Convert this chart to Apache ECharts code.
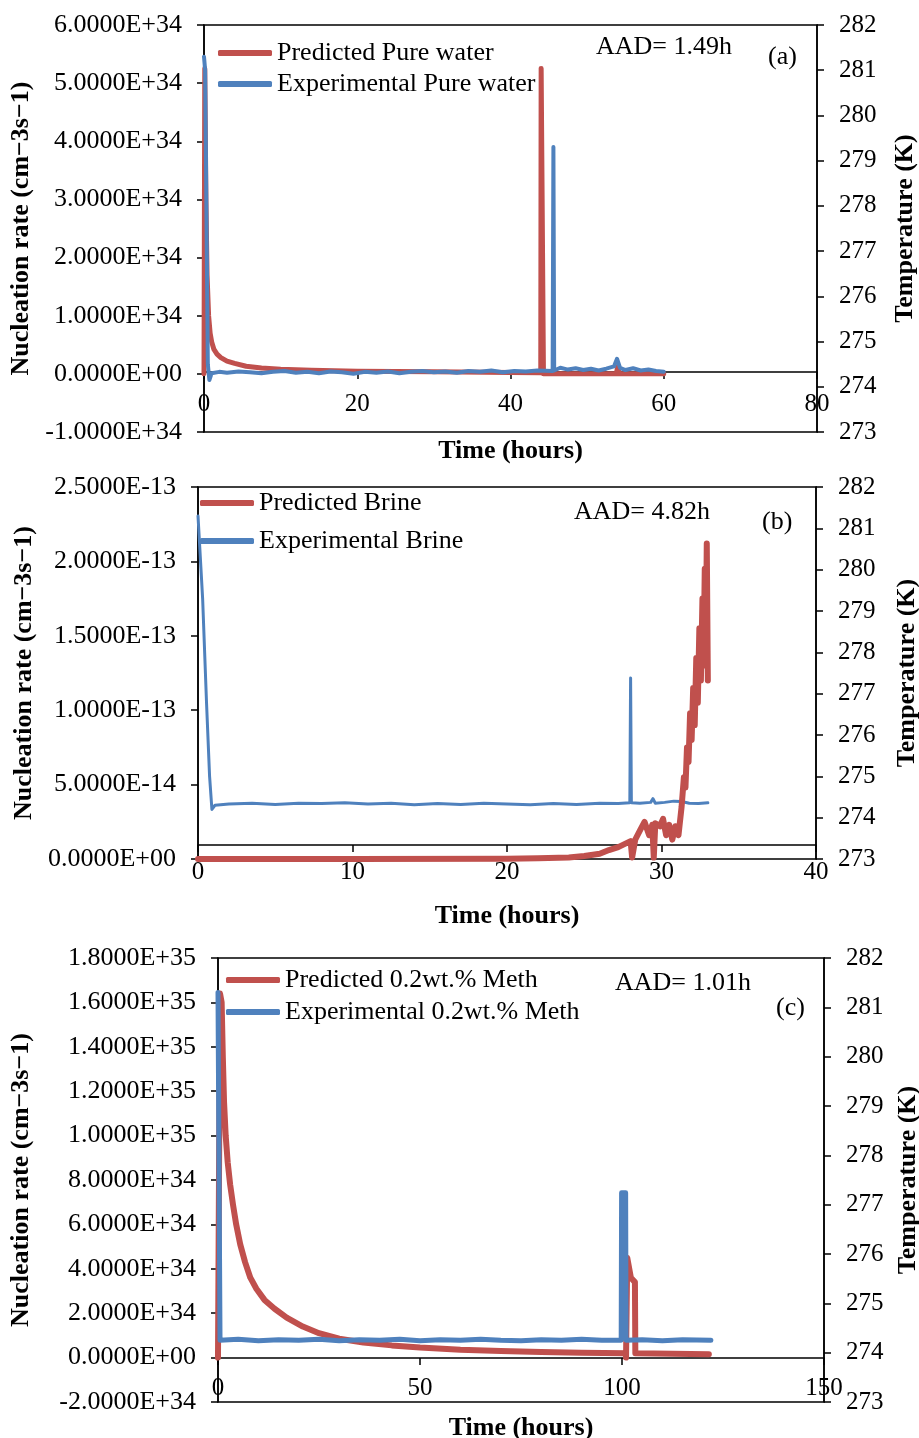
<!DOCTYPE html>
<html>
<head>
<meta charset="utf-8">
<script src="https://cdn.jsdelivr.net/npm/echarts@6/dist/echarts.min.js"></script>
<style>
  html, body { margin: 0; padding: 0; background: #fff; }
  #chart { width: 919px; height: 1438px; }
</style>
</head>
<body>
<div id="chart"></div>
<script>
// ---------- data ----------
// (a) pure water
const timePredA = [0, 0.1, 0.25, 0.4, 0.6, 0.8, 1.0, 1.3, 1.7, 2.2, 3.0, 4.0, 5.5, 7.5, 10, 14, 20, 30, 40, 43.95, 44.0, 44.15, 44.3, 50, 53.8, 54.0, 54.2, 60];
const ratePredA = [0, 5.25e34, 3.0e34, 1.7e34, 1.0e34, 0.7e34, 0.55e34, 0.42e34, 0.34e34, 0.28e34, 0.22e34, 0.18e34, 0.13e34, 0.1e34, 0.08e34, 0.06e34, 0.045e34, 0.035e34, 0.025e34, 0.02e34, 5.25e34, 5.25e34, 0, 0, 0, 0.12e34, 0, 0];
const timeExpA = [0, 0.15, 0.5, 0.7, 1.0, 2, 3, 4.5, 6, 7.5, 9, 10.5, 12, 13.5, 15, 16.5, 18, 19.5, 21, 22.5, 24, 25.5, 27, 28.5, 30, 31.5, 33, 34.5, 36, 37.5, 39, 40.5, 42, 43.5, 45.5, 45.6, 45.7, 46.5, 47.5, 48.5, 49.5, 50.5, 51.5, 52.5, 53.5, 53.9, 54.3, 55, 56, 57, 58, 59, 60];
const tempExpA = [281.3, 281.0, 274.5, 274.15, 274.3, 274.33, 274.31, 274.34, 274.32, 274.3, 274.33, 274.35, 274.31, 274.33, 274.3, 274.34, 274.32, 274.29, 274.33, 274.31, 274.34, 274.3, 274.33, 274.35, 274.32, 274.34, 274.31, 274.35, 274.33, 274.36, 274.32, 274.35, 274.34, 274.36, 274.35, 279.3, 274.36, 274.42, 274.38, 274.41, 274.37, 274.4, 274.36, 274.4, 274.45, 274.62, 274.42, 274.37, 274.41, 274.36, 274.38, 274.35, 274.33];

// (b) brine
const timePredB = [0, 10, 20, 22, 24, 25, 26, 26.6, 27.2, 27.6, 28.0, 28.1, 28.3, 28.6, 28.9, 29.2, 29.4, 29.5, 29.6, 29.9, 30.1, 30.3, 30.5, 30.7, 30.9, 31.1, 31.3, 31.45, 31.55, 31.65, 31.75, 31.85, 31.95, 32.05, 32.15, 32.25, 32.35, 32.45, 32.55, 32.65, 32.72, 32.8, 32.87, 32.93, 33.0];
const ratePredB = [0, 0, 0.02e-14, 0.05e-14, 0.1e-14, 0.2e-14, 0.35e-14, 0.6e-14, 0.8e-14, 1.0e-14, 1.2e-14, 0.1e-14, 1.3e-14, 1.9e-14, 2.5e-14, 1.6e-14, 2.3e-14, 0.1e-14, 2.4e-14, 2.2e-14, 2.7e-14, 1.6e-14, 2.3e-14, 1.3e-14, 2.2e-14, 1.6e-14, 3.5e-14, 5.5e-14, 4.8e-14, 7.5e-14, 6.5e-14, 9.8e-14, 8.0e-14, 11.5e-14, 9.0e-14, 13.5e-14, 10.5e-14, 15.5e-14, 12.0e-14, 17.5e-14, 13.0e-14, 19.5e-14, 14.0e-14, 21.2e-14, 12.0e-14];
const timeExpB = [0, 0.3, 0.55, 0.75, 0.9, 1.1, 2, 3.5, 5, 6.5, 8, 9.5, 11, 12.5, 14, 15.5, 17, 18.5, 20, 21.5, 23, 24.5, 26, 27.2, 27.95, 28.0, 28.05, 28.6, 29.3, 29.45, 29.6, 30.2, 30.8, 31.3, 31.8, 32.4, 33.0];
const tempExpB = [281.3, 279.3, 276.8, 275.0, 274.2, 274.3, 274.33, 274.35, 274.32, 274.35, 274.34, 274.36, 274.33, 274.35, 274.31, 274.34, 274.32, 274.35, 274.33, 274.31, 274.34, 274.32, 274.35, 274.34, 274.36, 277.38, 274.36, 274.35, 274.37, 274.46, 274.35, 274.37, 274.4, 274.39, 274.35, 274.34, 274.36];

// (c) 0.2 wt.% methanol
const timePredC = [0, 0.5, 0.9, 1.2, 1.5, 1.9, 2.4, 3.0, 3.7, 4.5, 5.5, 6.7, 8.0, 9.5, 11.5, 14, 17, 21, 25, 30, 36, 43, 50, 60, 70, 80, 90, 100.9, 101.0, 101.3, 102.2, 103.2, 103.3, 121.5];
const ratePredC = [0, 16.4e34, 16.0e34, 13.5e34, 11.5e34, 10.0e34, 8.8e34, 7.8e34, 6.9e34, 6.0e34, 5.1e34, 4.3e34, 3.6e34, 3.1e34, 2.6e34, 2.2e34, 1.8e34, 1.4e34, 1.1e34, 0.85e34, 0.68e34, 0.55e34, 0.45e34, 0.35e34, 0.3e34, 0.25e34, 0.22e34, 0.2e34, 0, 4.5e34, 3.6e34, 3.4e34, 0.2e34, 0.15e34];
const timeExpC = [0, 0.3, 0.5, 5, 10, 15, 20, 25, 30, 35, 40, 45, 50, 55, 60, 65, 70, 75, 80, 85, 90, 95, 99.8, 99.9, 100.9, 101.0, 105, 110, 115, 122];
const tempExpC = [281.3, 281.3, 274.25, 274.27, 274.24, 274.26, 274.25, 274.27, 274.24, 274.26, 274.25, 274.27, 274.24, 274.26, 274.25, 274.27, 274.25, 274.24, 274.26, 274.25, 274.27, 274.25, 274.25, 277.24, 277.24, 274.25, 274.26, 274.24, 274.26, 274.25];

const seriesNames = [
  ["Predicted Pure water", "Experimental Pure water"],
  ["Predicted Brine", "Experimental Brine"],
  ["Predicted 0.2wt.% Meth", "Experimental 0.2wt.% Meth"],
];
const aadLabels = ["AAD= 1.49h", "AAD= 4.82h", "AAD= 1.01h"];
const panelTags = ["(a)", "(b)", "(c)"];

// ---------- helpers ----------
const FONT = "'Liberation Serif', 'Times New Roman', serif";
const RED = "#C0504D";
const BLUE = "#4F81BD";

const pairs = (xs, ys) => xs.map((x, i) => [x, ys[i]]);

// 6.0000E+34 style labels
const sci = (v) => {
  const parts = Number(v).toExponential(4).split("e");
  const exp = parseInt(parts[1], 10);
  return parts[0] + "E" + (exp < 0 ? "-" : "+") + String(Math.abs(exp)).padStart(2, "0");
};

const blackLine = { color: "#000", width: 1.5 };

const grids = [
  { left: 204, right: 102, top: 25, height: 407 },
  { left: 198, right: 103, top: 487, height: 372 },
  { left: 218, right: 95, top: 958, height: 444 },
].map((g) => ({
  ...g,
  show: true,
  borderColor: "#000",
  borderWidth: 1.5,
  backgroundColor: "transparent",
  containLabel: false,
  outerBoundsMode: "none",
}));

// the time axis sits where the left axis crosses its own baseline, so it is lifted by an offset
const makeX = (gridIndex, max, interval, offset, margin, nameGap) => ({
  type: "value",
  gridIndex,
  min: 0,
  max,
  interval,
  offset,
  name: "Time (hours)",
  nameLocation: "middle",
  nameGap,
  nameTextStyle: { fontFamily: FONT, fontSize: 26, fontWeight: "bold", color: "#000" },
  axisLine: { show: true, onZero: false, lineStyle: blackLine },
  axisTick: { show: true, inside: false, length: 7, lineStyle: blackLine },
  axisLabel: { color: "#000", fontFamily: FONT, fontSize: 25, margin, showMinLabel: true, showMaxLabel: true },
  splitLine: { show: false },
});

const makeLeftY = (gridIndex, min, max, interval, nameGap) => ({
  type: "value",
  gridIndex,
  position: "left",
  min,
  max,
  interval,
  name: "Nucleation rate (cm\u22123s\u22121)",
  nameLocation: "middle",
  nameRotate: 90,
  nameGap,
  nameTextStyle: { fontFamily: FONT, fontSize: 26, fontWeight: "bold", color: "#000" },
  axisLine: { show: true, onZero: false, lineStyle: blackLine },
  axisTick: { show: true, inside: false, length: 7, lineStyle: blackLine },
  axisLabel: { color: "#000", fontFamily: FONT, fontSize: 26, margin: 22, formatter: sci },
  splitLine: { show: false },
});

const makeRightY = (gridIndex, nameGap) => ({
  type: "value",
  gridIndex,
  position: "right",
  min: 273,
  max: 282,
  interval: 1,
  name: "Temperature (K)",
  nameLocation: "middle",
  nameRotate: 90,
  nameGap,
  nameTextStyle: { fontFamily: FONT, fontSize: 26, fontWeight: "bold", color: "#000" },
  axisLine: { show: true, onZero: false, lineStyle: blackLine },
  axisTick: { show: true, inside: false, length: 7, lineStyle: blackLine },
  axisLabel: { color: "#000", fontFamily: FONT, fontSize: 25, margin: 22 },
  splitLine: { show: false },
});

const makeLine = (name, idx, yIdx, data, color, width, z) => ({
  name,
  type: "line",
  xAxisIndex: idx,
  yAxisIndex: yIdx,
  data,
  color,
  showSymbol: false,
  symbol: "none",
  z,
  lineStyle: { color, width, join: "round", cap: "round" },
});

const makeLegend = (names, left, top, itemGap) => ({
  data: names,
  orient: "vertical",
  left,
  top,
  padding: 0,
  itemGap,
  itemWidth: 54,
  itemHeight: 6,
  icon: "roundRect",
  selectedMode: false,
  textStyle: { fontFamily: FONT, fontSize: 26, color: "#000" },
});

const makeText = (text, left, top) => ({
  type: "text",
  left,
  top,
  style: { text, font: "26px " + FONT, fill: "#000" },
});

// ---------- chart ----------
const chart = echarts.init(document.getElementById("chart"), null, { renderer: "canvas" });

const option = {
  animation: false,
  backgroundColor: "#fff",
  grid: grids,
  xAxis: [
    makeX(0, 80, 20, -60, 20, 66),
    makeX(1, 40, 10, -14, 15, 58),
    makeX(2, 150, 50, -44, 18, 57),
  ],
  yAxis: [
    makeLeftY(0, -1e34, 6e34, 1e34, 168),
    makeRightY(0, 75),
    makeLeftY(1, 0, 2.5e-13, 5e-14, 160),
    makeRightY(1, 78),
    makeLeftY(2, -2e34, 1.8e35, 2e34, 184),
    makeRightY(2, 71),
  ],
  legend: [
    makeLegend(seriesNames[0], 218, 40, 5),
    makeLegend(seriesNames[1], 200, 490, 12),
    makeLegend(seriesNames[2], 226, 967, 6),
  ],
  graphic: [
    makeText(aadLabels[0], 596, 34),
    makeText(panelTags[0], 768, 44),
    makeText(aadLabels[1], 574, 499),
    makeText(panelTags[1], 762, 509),
    makeText(aadLabels[2], 615, 970),
    makeText(panelTags[2], 776, 995),
  ],
  series: [
    makeLine(seriesNames[0][0], 0, 0, pairs(timePredA, ratePredA), RED, 5, 2),
    makeLine(seriesNames[0][1], 0, 1, pairs(timeExpA, tempExpA), BLUE, 4, 3),
    makeLine(seriesNames[1][0], 1, 2, pairs(timePredB, ratePredB), RED, 6, 3),
    makeLine(seriesNames[1][1], 1, 3, pairs(timeExpB, tempExpB), BLUE, 3, 2),
    makeLine(seriesNames[2][0], 2, 4, pairs(timePredC, ratePredC), RED, 6, 2),
    makeLine(seriesNames[2][1], 2, 5, pairs(timeExpC, tempExpC), BLUE, 5, 3),
  ],
};

chart.setOption(option);
</script>
</body>
</html>
